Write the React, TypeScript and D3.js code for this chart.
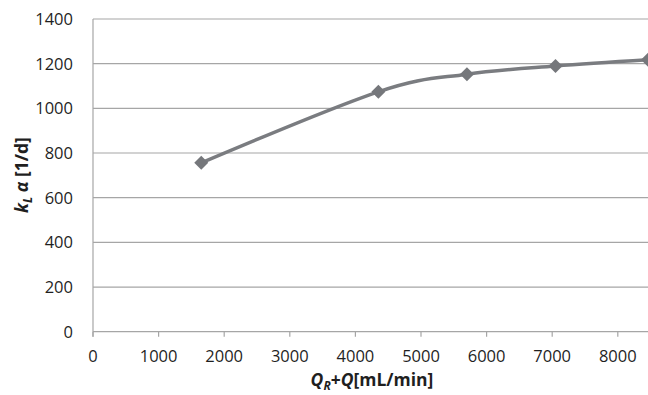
import * as d3 from "d3";

const flowRates = [1650, 4350, 5700, 7050, 8460];
const klaValues = [756, 1074, 1153, 1190, 1218];
const xTickValues = [0, 1000, 2000, 3000, 4000, 5000, 6000, 7000, 8000, 9000];
const yTickValues = [0, 200, 400, 600, 800, 1000, 1200, 1400];

const W = 648;
const H = 395;
const FONT = "'Open Sans', 'Liberation Sans', sans-serif";

export default function App() {
  const x = d3.scaleLinear().domain([0, 9000]).range([93, 683.4]);
  const y = d3.scaleLinear().domain([0, 1400]).range([331.7, 19]);

  const pts = flowRates.map((f, i) => [x(f), y(klaValues[i])] as [number, number]);
  const line = d3.line().curve(d3.curveCardinal.tension(0));
  const diamond = (cx: number, cy: number, r: number) =>
    `M${cx},${cy - r}L${cx + r},${cy}L${cx},${cy + r}L${cx - r},${cy}Z`;

  return (
    <svg width={W} height={H} style={{ position: "absolute", left: 0, top: 0, background: "#fff" }}>
      <defs>
        <clipPath id="clip">
          <rect x={0} y={0} width={W} height={H} />
        </clipPath>
      </defs>
      <g clipPath="url(#clip)">
        {yTickValues.map((t) => (
          <line key={t} x1={x(0)} x2={x(9000)} y1={y(t)} y2={y(t)} stroke="#a6a6a6" strokeWidth={1.2} />
        ))}
        <line x1={x(0)} x2={x(0)} y1={y(1400)} y2={y(0) + 5} stroke="#a6a6a6" strokeWidth={1.2} />
        {xTickValues.map((t) => (
          <line key={t} x1={x(t)} x2={x(t)} y1={y(0)} y2={y(0) + 5} stroke="#a6a6a6" strokeWidth={1.2} />
        ))}
        {yTickValues.map((t) => (
          <text key={t} x={73} y={y(t) + 6} textAnchor="end" fontSize={16.5} fontFamily={FONT} fill="#1f1f1f">
            {t}
          </text>
        ))}
        {xTickValues.slice(0, 9).map((t) => (
          <text key={t} x={x(t)} y={362} textAnchor="middle" fontSize={16.5} fontFamily={FONT} fill="#1f1f1f">
            {t}
          </text>
        ))}
        <path d={line(pts) ?? ""} fill="none" stroke="#7a7c80" strokeWidth={3.5} />
        {pts.map(([px, py], i) => (
          <path key={i} d={diamond(px, py, 7)} fill="#75777b" />
        ))}
        <text
          transform={`translate(28,175) rotate(-90)`}
          textAnchor="middle"
          fontSize={17.5}
          fontWeight="bold"
          fontFamily={FONT}
          fill="#1f1f1f"
        >
          <tspan fontStyle="italic">k</tspan>
          <tspan fontStyle="italic" fontSize={12} dy={4}>L</tspan>
          <tspan fontStyle="italic" dy={-4}> α</tspan>
          <tspan> [1/d]</tspan>
        </text>
        <text x={372} y={386} textAnchor="middle" fontSize={17.5} fontWeight="bold" fontFamily={FONT} fill="#1f1f1f">
          <tspan fontStyle="italic">Q</tspan>
          <tspan fontStyle="italic" fontSize={12} dy={4}>R</tspan>
          <tspan dy={-4}>+</tspan>
          <tspan fontStyle="italic">Q</tspan>
          <tspan>[mL/min]</tspan>
        </text>
      </g>
    </svg>
  );
}
